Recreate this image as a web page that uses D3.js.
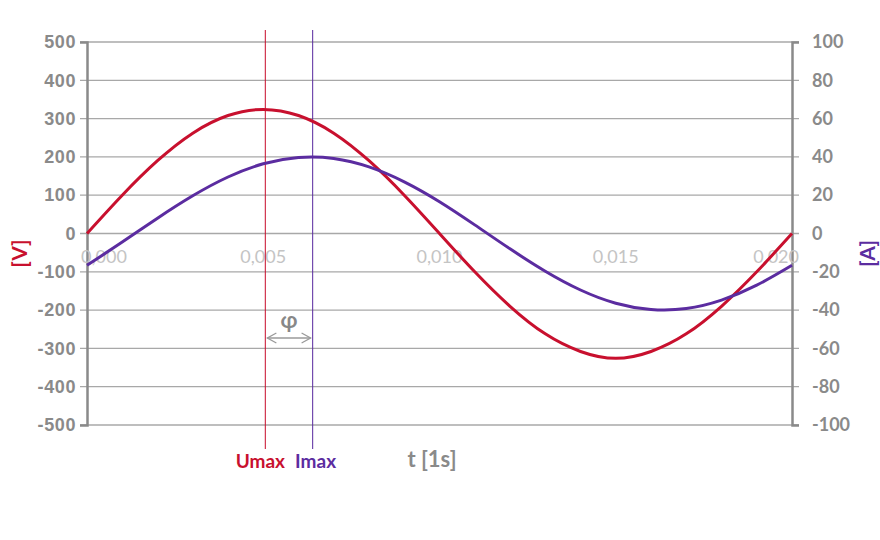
<!DOCTYPE html>
<html>
<head>
<meta charset="utf-8">
<script src="https://cdn.jsdelivr.net/npm/d3@7"></script>
<style>
  body { margin: 0; background: #fff; }
  svg { display: block; }
</style>
</head>
<body>
<div id="chart"></div>
<script>
// time samples [s]
var time = [0, 0.001, 0.002, 0.003, 0.004, 0.005, 0.006, 0.007, 0.008, 0.009, 0.010,
            0.011, 0.012, 0.013, 0.014, 0.015, 0.016, 0.017, 0.018, 0.019, 0.020];
// voltage [V]
var voltage = [0, 100, 190, 262, 308, 324, 308, 262, 190, 100, 0,
               -100, -190, -262, -308, -326, -308, -262, -190, -100, 0];
// current [A]
var current = [-16.6, -4.5, 8, 19.7, 29.5, 36.4, 39.7, 39.2, 34.8, 27, 16.6,
               4.5, -8, -19.7, -29.5, -36.4, -39.7, -39.2, -34.8, -27, -16.6];

var voltTicks = [-500, -400, -300, -200, -100, 0, 100, 200, 300, 400, 500];
var ampTicks = [-100, -80, -60, -40, -20, 0, 20, 40, 60, 80, 100];
var timeTicks = [0, 0.005, 0.010, 0.015, 0.020];

// positions of the two marker lines
var uMaxT = 0.00506;
var iMaxT = 0.0064;

var red = "#c8102e", purple = "#5b2ca0", grey = "#8a8a8a";

var W = 880, H = 540;
var margin = {top: 42, right: 88, bottom: 115, left: 87};
var width = W - margin.left - margin.right,
    height = H - margin.top - margin.bottom;

var svg = d3.select("#chart").append("svg")
    .attr("width", W).attr("height", H);
var g = svg.append("g")
    .attr("transform", "translate(" + margin.left + "," + margin.top + ")");

var x = d3.scaleLinear().domain([0, 0.02]).range([0, width]);
var yV = d3.scaleLinear().domain([-500, 500]).range([height, 0]);
var yA = d3.scaleLinear().domain([-100, 100]).range([height, 0]);

// plain hyphen for negatives, like the original
var plain = function(d) { return String(d); };

// grid lines (they run through both axes as tick marks)
g.selectAll(".grid")
  .data(voltTicks)
  .enter().append("line")
    .attr("x1", -7).attr("x2", width + 7)
    .attr("y1", function(d) { return yV(d); })
    .attr("y2", function(d) { return yV(d); })
    .attr("stroke", "#a8a8a8").attr("stroke-width", 1.3);

// left axis
var left = g.append("g")
  .call(d3.axisLeft(yV).tickValues(voltTicks).tickFormat(plain).tickSize(7).tickPadding(4));
left.select(".domain").attr("stroke", grey).attr("stroke-width", 2.5);
left.selectAll(".tick line").remove();
left.selectAll("text")
  .attr("fill", grey)
  .style("font-family", "'Liberation Sans', Arial, sans-serif")
  .style("font-size", "18px").style("font-weight", "bold")
  .style("letter-spacing", "0.6px");

// right axis
var right = g.append("g")
  .attr("transform", "translate(" + width + ",0)")
  .call(d3.axisRight(yA).tickValues(ampTicks).tickFormat(plain).tickSize(7).tickPadding(13));
right.select(".domain").attr("stroke", grey).attr("stroke-width", 2.5);
right.selectAll(".tick line").remove();
right.selectAll("text")
  .attr("fill", grey)
  .style("font-family", "Lato, sans-serif")
  .style("font-size", "18px").style("font-weight", "bold");

// time labels sit just below the zero line
g.selectAll(".tlabel")
  .data(timeTicks)
  .enter().append("text")
    .attr("x", function(d) { return x(d); })
    .attr("y", yV(0) + 29)
    .attr("text-anchor", function(d, i) {
      return i == 0 ? "start" : (i == timeTicks.length - 1 ? "end" : "middle");
    })
    .attr("dx", function(d, i) { return i == 0 ? -6 : (i == timeTicks.length - 1 ? 7 : 0); })
    .attr("fill", "#c4c4c4")
    .style("font-family", "Lato, sans-serif")
    .style("font-size", "18px")
    .text(function(d) { return d3.format(".3f")(d).replace(".", ","); });

// marker lines
[[uMaxT, red], [iMaxT, purple]].forEach(function(m) {
  g.append("line")
    .attr("x1", x(m[0])).attr("x2", x(m[0]))
    .attr("y1", -12).attr("y2", height + 24)
    .attr("stroke", m[1]).attr("stroke-width", 1.2)
    .attr("stroke-opacity", 0.85);
});

// curves
var lineV = d3.line()
  .x(function(d, i) { return x(time[i]); })
  .y(function(d) { return yV(d); })
  .curve(d3.curveNatural);
var lineA = d3.line()
  .x(function(d, i) { return x(time[i]); })
  .y(function(d) { return yA(d); })
  .curve(d3.curveNatural);

g.append("path").datum(voltage)
  .attr("d", lineV).attr("fill", "none")
  .attr("stroke", red).attr("stroke-width", 3);
g.append("path").datum(current)
  .attr("d", lineA).attr("fill", "none")
  .attr("stroke", purple).attr("stroke-width", 3);

// phase shift arrow
var ax1 = x(uMaxT) + 2, ax2 = x(iMaxT) - 2, ay = 296;
g.append("line")
  .attr("x1", ax1).attr("x2", ax2).attr("y1", ay).attr("y2", ay)
  .attr("stroke", "#9a9a9a").attr("stroke-width", 1.3);
g.append("path")
  .attr("d", "M" + (ax1 + 9) + "," + (ay - 5) + "L" + ax1 + "," + ay + "L" + (ax1 + 9) + "," + (ay + 5)
           + "M" + (ax2 - 9) + "," + (ay - 5) + "L" + ax2 + "," + ay + "L" + (ax2 - 9) + "," + (ay + 5))
  .attr("fill", "none").attr("stroke", "#9a9a9a").attr("stroke-width", 1.3);
g.append("text")
  .attr("x", (ax1 + ax2) / 2).attr("y", ay - 10)
  .attr("text-anchor", "middle")
  .attr("fill", "#888")
  .style("font-family", "Lato, sans-serif")
  .style("font-size", "22px").style("font-weight", "bold")
  .text("φ");

// bottom labels
var lab = svg.append("g")
  .style("font-family", "Lato, sans-serif")
  .style("font-weight", "bold");
lab.append("text")
  .attr("x", margin.left + x(uMaxT) - 5).attr("y", 468)
  .attr("text-anchor", "middle").attr("fill", red)
  .style("font-size", "19px").text("Umax");
lab.append("text")
  .attr("x", margin.left + x(iMaxT) + 3).attr("y", 468)
  .attr("text-anchor", "middle").attr("fill", purple)
  .style("font-size", "19px").text("Imax");
lab.append("text")
  .attr("x", 432).attr("y", 467)
  .attr("text-anchor", "middle").attr("fill", grey)
  .style("font-size", "22px").text("t [1s]");

// axis titles
lab.append("text")
  .attr("transform", "translate(27," + (margin.top + yV(0) + 20) + ") rotate(-90)")
  .attr("text-anchor", "middle").attr("fill", red)
  .style("font-size", "21px").text("[V]");
lab.append("text")
  .attr("transform", "translate(875," + (margin.top + yV(0) + 20) + ") rotate(-90)")
  .attr("text-anchor", "middle").attr("fill", purple)
  .style("font-size", "21px").text("[A]");
</script>
</body>
</html>
